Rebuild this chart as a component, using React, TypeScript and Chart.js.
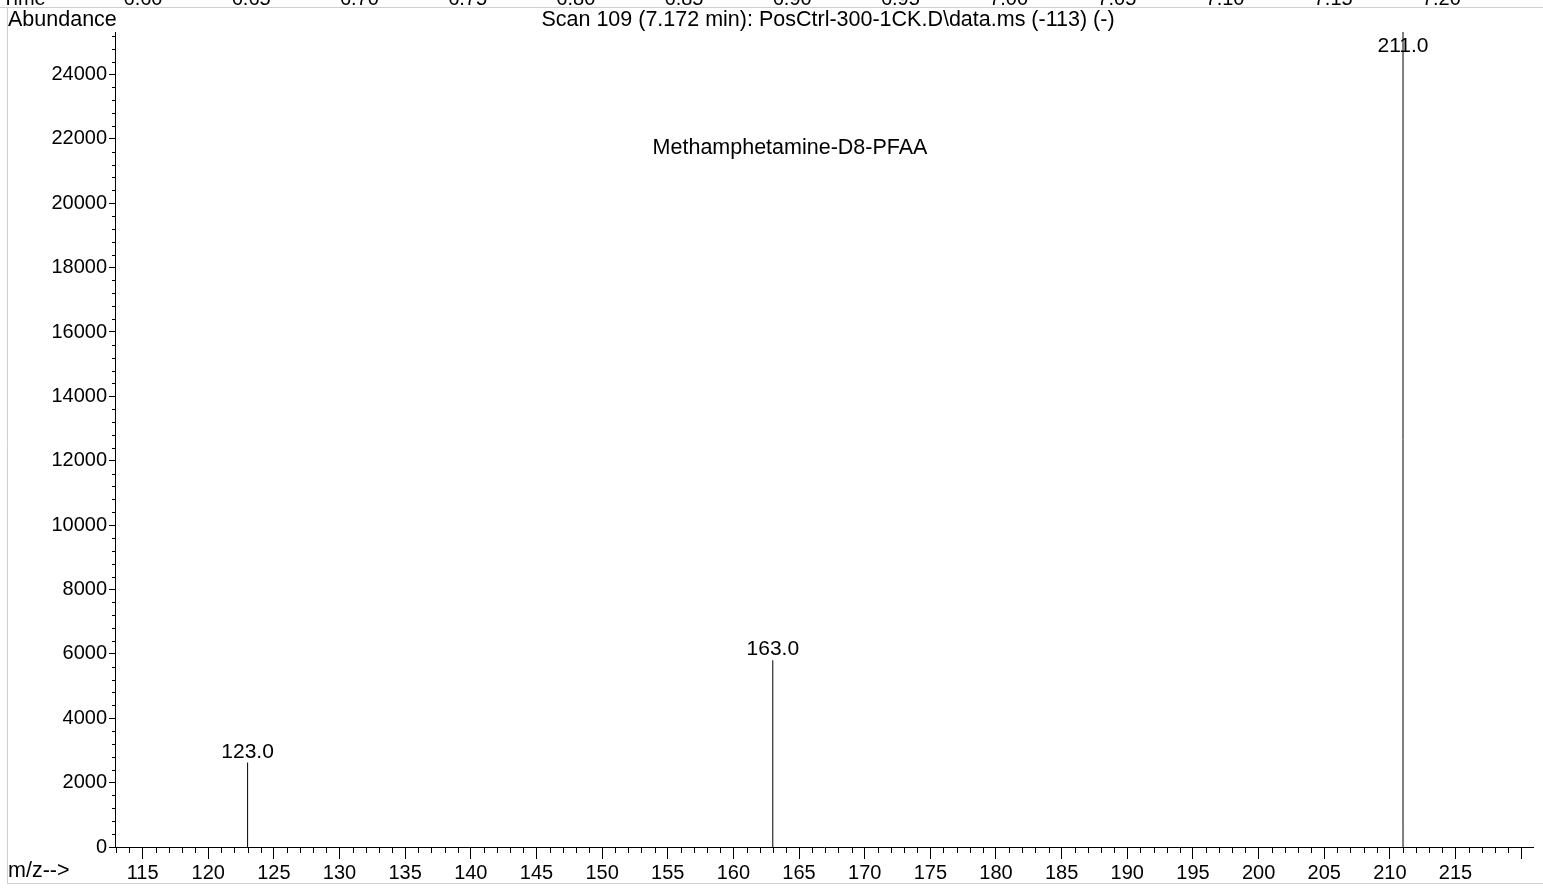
import React, { useEffect, useRef } from "react";
import { Chart, registerables } from "chart.js";

Chart.register(...registerables);

const mzValues = [123, 163, 211];
const abundances = [2624, 5800, 25320];
const peakLabels = ["123.0", "163.0", "211.0"];
const yTickValues = [0, 2000, 4000, 6000, 8000, 10000, 12000, 14000, 16000, 18000, 20000, 22000, 24000];
const timeLabels = ["6.60", "6.65", "6.70", "6.75", "6.80", "6.85", "6.90", "6.95", "7.00", "7.05", "7.10", "7.15", "7.20"];
const titleText = "Scan 109 (7.172 min): PosCtrl-300-1CK.D\\data.ms (-113) (-)";
const compoundText = "Methamphetamine-D8-PFAA";
const yLabel = "Abundance";
const xLabel = "m/z-->";
const xMin = 112.9;
const xMax = 220.9;
const yMax = 25320;

const FONT = '"Liberation Sans", Arial, sans-serif';

const decorPlugin = {
  id: "decor",
  beforeDraw(chart: any) {
    const ctx = chart.ctx;
    ctx.save();
    ctx.fillStyle = "#fff";
    ctx.fillRect(0, 0, chart.width, chart.height);
    ctx.strokeStyle = "#cfcfcf";
    ctx.lineWidth = 1;
    ctx.beginPath();
    ctx.moveTo(0, 7.5);
    ctx.lineTo(chart.width, 7.5);
    ctx.moveTo(7.5, 7.5);
    ctx.lineTo(7.5, 883.5);
    ctx.moveTo(7.5, 883.5);
    ctx.lineTo(chart.width, 883.5);
    ctx.stroke();
    ctx.restore();
  },
  afterDraw(chart: any) {
    const ctx = chart.ctx;
    const xs = chart.scales.x;
    const ys = chart.scales.y;
    const area = chart.chartArea;
    ctx.save();
    // minor ticks
    ctx.strokeStyle = "#000";
    ctx.lineWidth = 1;
    ctx.beginPath();
    for (let v = Math.ceil(xMin); v <= Math.floor(xMax); v++) {
      if (v % 5 === 0) continue;
      const px = Math.round(xs.getPixelForValue(v)) + 0.5;
      ctx.moveTo(px, area.bottom);
      ctx.lineTo(px, area.bottom + 6);
    }
    for (let v = 0; v <= yMax; v += 400) {
      if (v % 2000 === 0) continue;
      const py = Math.round(ys.getPixelForValue(v)) + 0.5;
      ctx.moveTo(area.left, py);
      ctx.lineTo(area.left - 3, py);
    }
    ctx.stroke();

    ctx.fillStyle = "#000";
    // peak labels
    ctx.font = `21px ${FONT}`;
    ctx.textAlign = "center";
    ctx.textBaseline = "alphabetic";
    mzValues.forEach((mz, i) => {
      const px = xs.getPixelForValue(mz);
      const py = ys.getPixelForValue(abundances[i]);
      const by = Math.max(py - 5, area.top + 20);
      ctx.fillText(peakLabels[i], px, by);
    });
    // titles
    ctx.font = `21.5px ${FONT}`;
    ctx.textBaseline = "middle";
    ctx.textAlign = "left";
    ctx.fillText(yLabel, 8, 20);
    ctx.fillText(xLabel, 8, 871);
    ctx.textAlign = "center";
    ctx.fillText(titleText, 828, 20);
    ctx.fillText(compoundText, 790, 148);
    // cut-off time axis row
    ctx.font = `20px ${FONT}`;
    ctx.textBaseline = "alphabetic";
    ctx.textAlign = "left";
    ctx.fillText("Time", 2, 5);
    ctx.textAlign = "center";
    timeLabels.forEach((t, i) => {
      ctx.fillText(t, 143 + i * 108.2, 5);
    });
    ctx.restore();
  },
};

export default function App() {
  const ref = useRef<HTMLCanvasElement | null>(null);
  useEffect(() => {
    if (!ref.current) return;
    const datasets = mzValues.map((mz, i) => ({
      label: peakLabels[i],
      data: [
        { x: mz, y: 0 },
        { x: mz, y: abundances[i] },
      ],
      showLine: true,
      borderColor: "#000",
      borderWidth: 1,
      pointRadius: 0,
      pointHoverRadius: 0,
    }));
    const chart = new Chart(ref.current, {
      type: "scatter",
      data: { datasets },
      plugins: [decorPlugin],
      options: {
        responsive: false,
        animation: false,
        events: [],
        layout: { padding: { left: 0, top: 32, right: 10, bottom: 0 } },
        plugins: {
          legend: { display: false },
          tooltip: { enabled: false },
          title: { display: false },
        },
        scales: {
          x: {
            type: "linear",
            min: xMin,
            max: xMax,
            afterFit: (s: any) => {
              s.height = 41;
            },
            border: { display: true, color: "#000", width: 1 },
            grid: {
              drawOnChartArea: false,
              drawTicks: true,
              tickLength: 12,
              tickColor: "#000",
            },
            ticks: {
              stepSize: 5,
              includeBounds: false,
              autoSkip: false,
              maxRotation: 0,
              padding: 2,
              color: "#000",
              font: { family: FONT, size: 20 },
              callback: (v: any) => (Number(v) % 5 === 0 && Number(v) < 220 ? String(v) : ""),
            },
          },
          y: {
            type: "linear",
            min: 0,
            max: yMax,
            afterFit: (s: any) => {
              s.width = 115;
            },
            afterBuildTicks: (s: any) => {
              s.ticks = yTickValues.map((v) => ({ value: v }));
            },
            border: { display: true, color: "#000", width: 1 },
            grid: {
              drawOnChartArea: false,
              drawTicks: true,
              tickLength: 6,
              tickColor: "#000",
            },
            ticks: {
              autoSkip: false,
              padding: 2,
              color: "#000",
              font: { family: FONT, size: 20 },
              callback: (v: any) => String(v),
            },
          },
        },
      },
    } as any);
    return () => chart.destroy();
  }, []);
  return (
    <div style={{ position: "absolute", left: 0, top: 0, width: 1543, height: 888 }}>
      <canvas ref={ref} width={1543} height={888} style={{ display: "block", width: 1543, height: 888 }} />
    </div>
  );
}
